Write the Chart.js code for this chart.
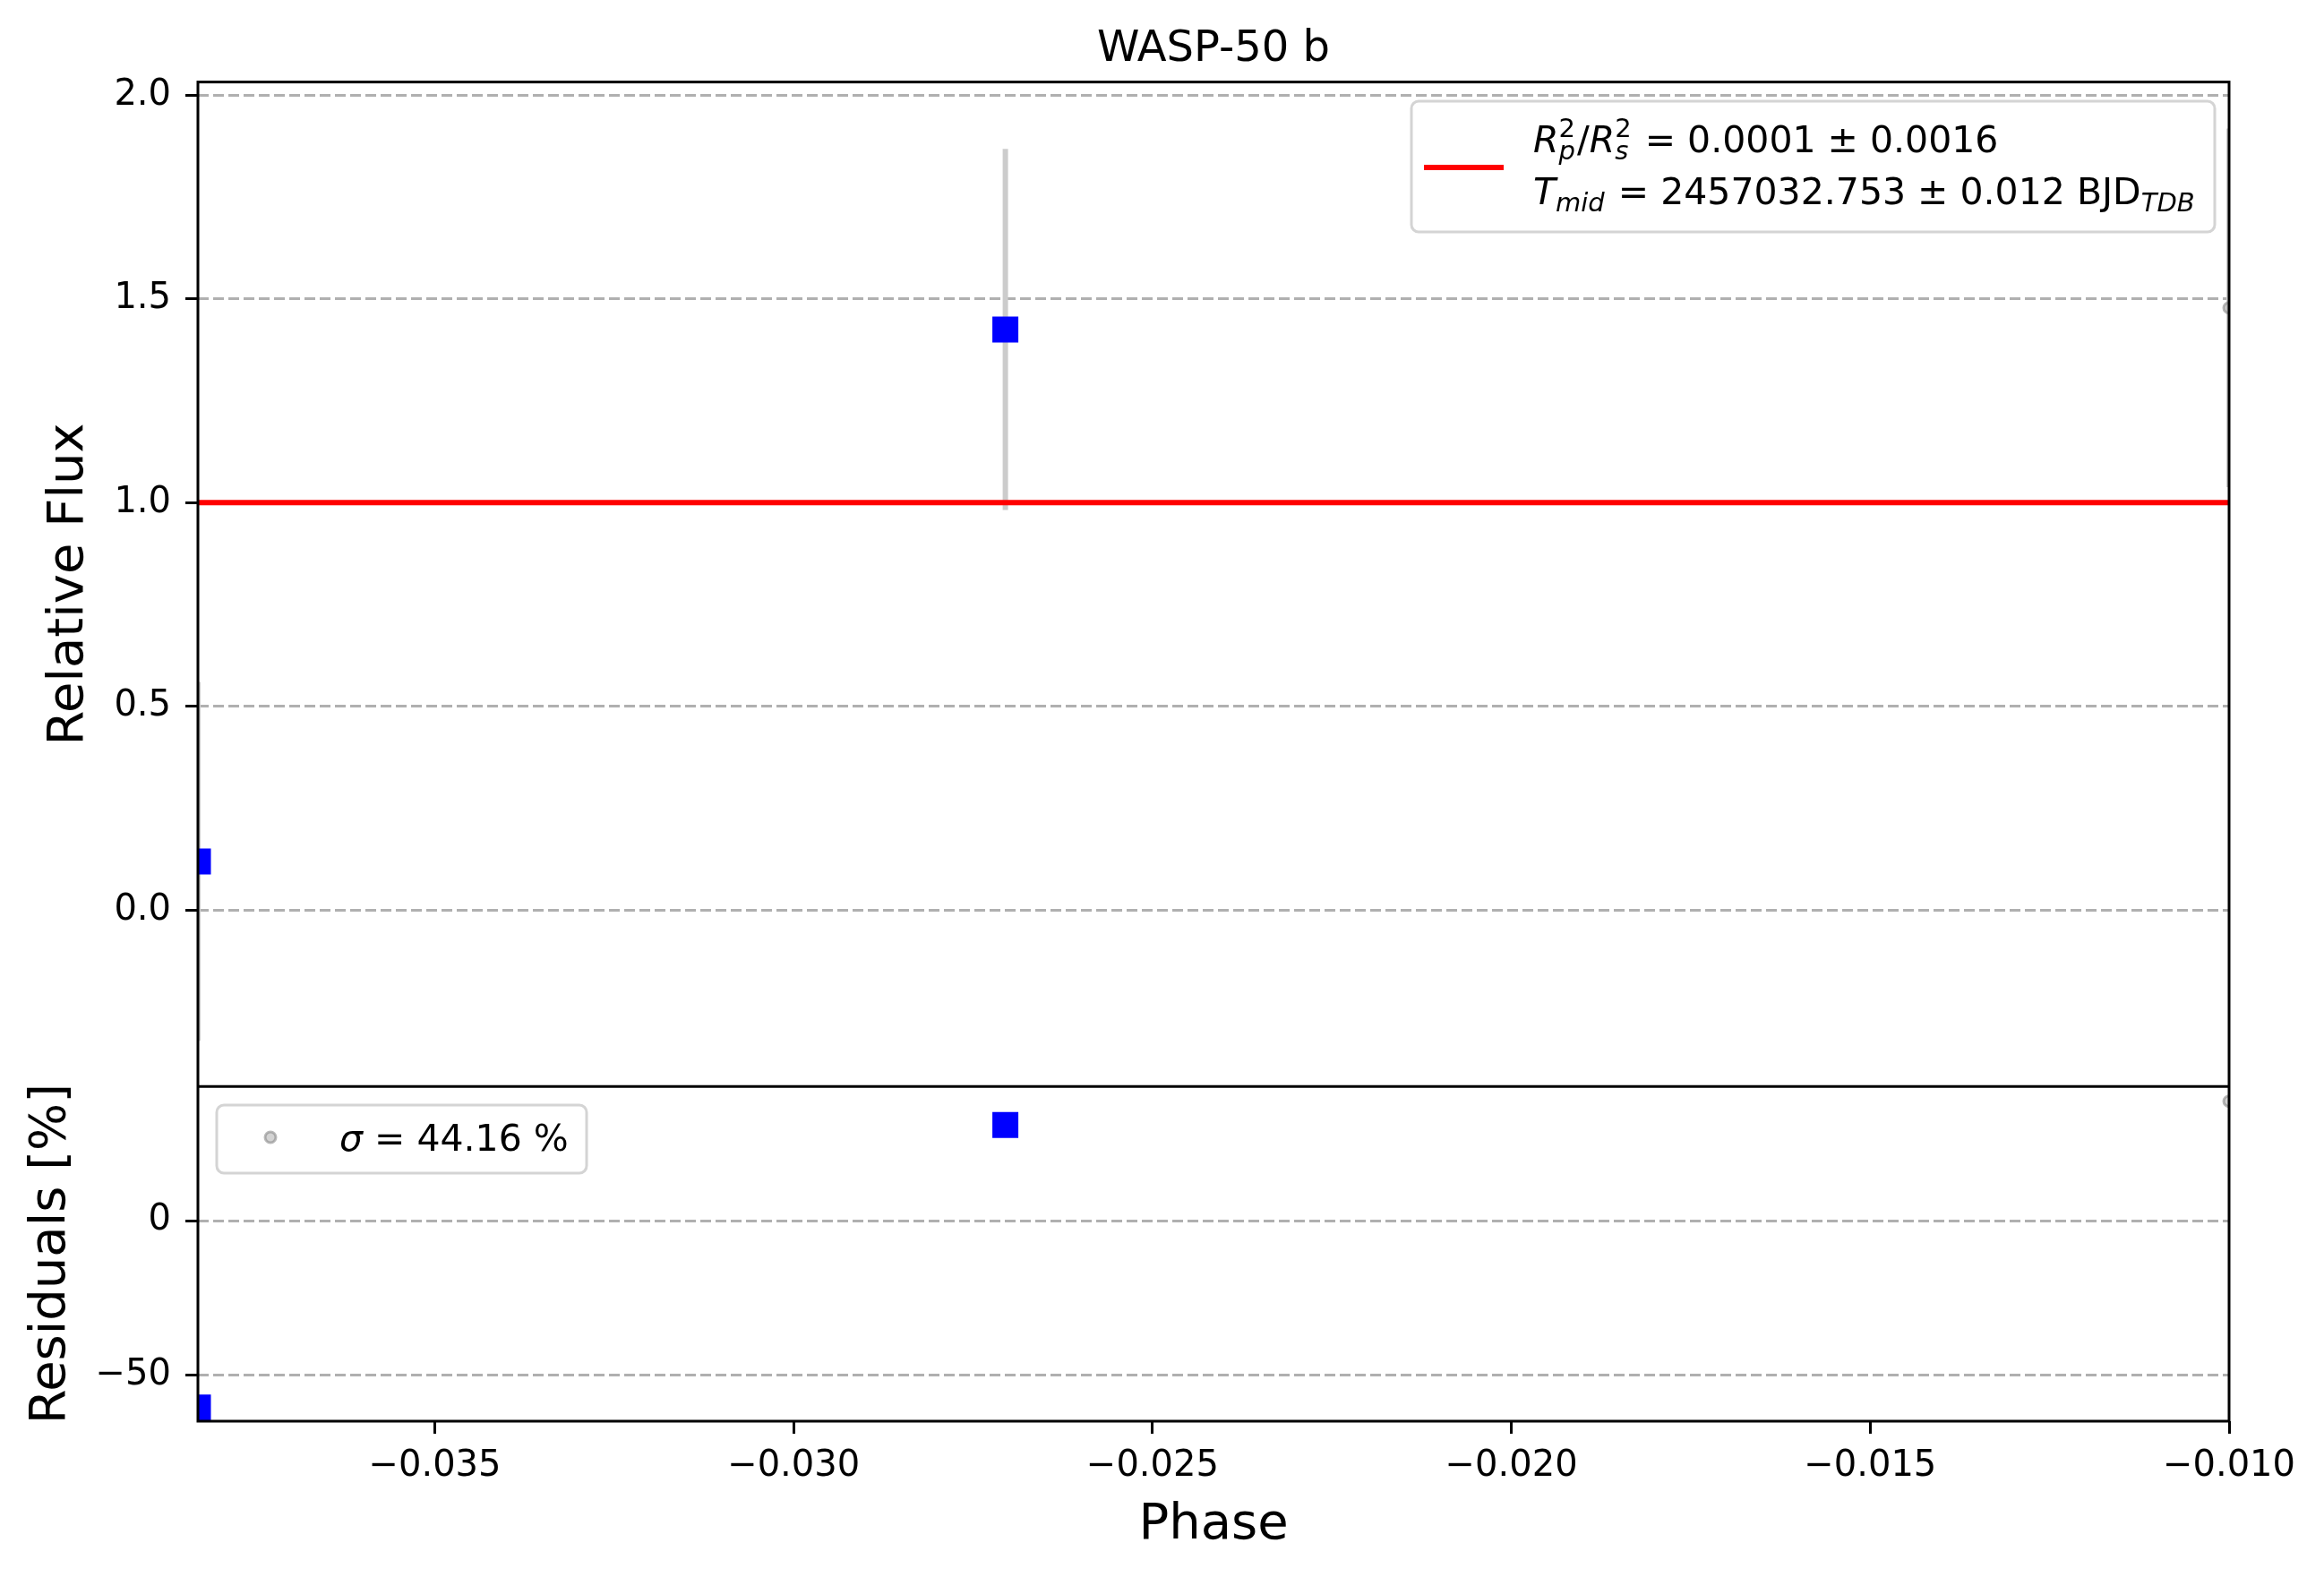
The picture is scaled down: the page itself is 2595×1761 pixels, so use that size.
<!doctype html>
<html>
<head>
<meta charset="utf-8" />
<title>WASP-50 b</title>
<script src="https://cdn.jsdelivr.net/npm/chart.js@4.4.1/dist/chart.umd.min.js"></script>
<style>
body { margin: 0; background: #fff; }
canvas { display: block; }
</style>
</head>
<body>
<canvas id="chart1" width="2595" height="1761"></canvas>
<script>
// binned points (blue squares)
var binPhase = [-0.0383, -0.02705];
var binFlux = [0.12, 1.425];
var binFluxErr = [0.44, 0.443];
var binResid = [-60.6, 31.0];
// raw points (grey dots)
var rawPhase = [-0.0100];
var rawFlux = [1.478];
var rawFluxErr = [0.44];
var rawResid = [38.7];
// transit model
var modelPhase = [-0.0383, -0.0100];
var modelFlux = [1.0, 1.0];

var xTicks = [-0.035, -0.030, -0.025, -0.020, -0.015, -0.010];

var FONT = '"DejaVu Sans"';
var minus = function(s) { return String(s).replace('-', '\u2212'); };

function pts(xs, ys) {
  return xs.map(function(x, i) { return {x: x, y: ys[i]}; });
}

var datasets = [];
// blue squares on top
datasets.push({ data: pts(binPhase, binFlux), yAxisID: 'y', pointStyle: 'rect', pointRadius: 20.5,
  backgroundColor: '#0000ff', borderWidth: 0, showLine: false, clip: 0 });
datasets.push({ data: pts(binPhase, binResid), yAxisID: 'yr', pointStyle: 'rect', pointRadius: 20.5,
  backgroundColor: '#0000ff', borderWidth: 0, showLine: false, clip: 0 });
// model line
datasets.push({ data: pts(modelPhase, modelFlux), yAxisID: 'y', showLine: true, pointRadius: 0,
  borderColor: '#ff0000', borderWidth: 6, clip: 0 });
// raw points
datasets.push({ data: pts(rawPhase, rawFlux), yAxisID: 'y', pointRadius: 6, showLine: false,
  backgroundColor: 'rgba(128,128,128,0.35)', borderColor: 'rgba(128,128,128,0.55)', borderWidth: 3, clip: 0 });
datasets.push({ data: pts(rawPhase, rawResid), yAxisID: 'yr', pointRadius: 6, showLine: false,
  backgroundColor: 'rgba(128,128,128,0.35)', borderColor: 'rgba(128,128,128,0.55)', borderWidth: 3, clip: 0 });
// error bars
function errBars(xs, ys, es) {
  xs.forEach(function(x, i) {
    datasets.push({ data: [{x: x, y: ys[i] - es[i]}, {x: x, y: ys[i] + es[i]}], yAxisID: 'y',
      showLine: true, pointRadius: 0, borderColor: '#cccccc', borderWidth: 6, clip: 0 });
  });
}
errBars(binPhase, binFlux, binFluxErr);
errBars(rawPhase, rawFlux, rawFluxErr);

function seg(ctx, x, y, text, size, italic) {
  ctx.font = (italic ? 'italic ' : '') + size + 'px ' + FONT;
  ctx.fillText(text, x, y);
  return ctx.measureText(text).width;
}
function subsup(ctx, x, y, sup, sub) {
  var a = sup ? seg(ctx, x, y - 17, sup, 29, false) : 0;
  var b = sub ? seg(ctx, x, y + 8, sub, 29, true) : 0;
  return Math.max(a, b) + 2;
}
function box(ctx, x, y, w, h, r) {
  ctx.beginPath();
  ctx.moveTo(x + r, y);
  ctx.arcTo(x + w, y, x + w, y + h, r);
  ctx.arcTo(x + w, y + h, x, y + h, r);
  ctx.arcTo(x, y + h, x, y, r);
  ctx.arcTo(x, y, x + w, y, r);
  ctx.closePath();
  ctx.fillStyle = 'rgba(255,255,255,0.8)';
  ctx.fill();
  ctx.strokeStyle = '#d4d4d4';
  ctx.lineWidth = 3;
  ctx.stroke();
}

var framePlugin = {
  id: 'frame',
  afterLayout: function(chart) {
    // centre the title over the plotting area, like matplotlib
    if (chart.titleBlock) {
      chart.titleBlock.left = chart.chartArea.left;
      chart.titleBlock.right = chart.chartArea.right;
    }
  },
  afterDatasetsDraw: function(chart) {
    var ctx = chart.ctx, a = chart.chartArea;
    ctx.save();
    ctx.strokeStyle = '#000';
    ctx.lineWidth = 3;
    ctx.strokeRect(a.left, a.top, a.right - a.left, a.bottom - a.top);
    var sep = chart.scales.y.bottom;
    ctx.beginPath();
    ctx.moveTo(a.left, sep);
    ctx.lineTo(a.right, sep);
    ctx.stroke();

    // legend of the top panel
    box(ctx, 1576, 113, 897, 146, 8);
    ctx.strokeStyle = '#ff0000';
    ctx.lineWidth = 6;
    ctx.beginPath();
    ctx.moveTo(1590, 187);
    ctx.lineTo(1679, 187);
    ctx.stroke();
    ctx.fillStyle = '#000';
    ctx.textBaseline = 'alphabetic';
    ctx.textAlign = 'left';
    var x = 1712, y = 170;
    x += seg(ctx, x, y, 'R', 41, true);
    x += subsup(ctx, x, y, '2', 'p');
    x += seg(ctx, x, y, '/', 41, false);
    x += seg(ctx, x, y, 'R', 41, true);
    x += subsup(ctx, x, y, '2', 's');
    seg(ctx, x, y, ' = 0.0001 \u00b1 0.0016', 41, false);
    x = 1712; y = 228;
    x += seg(ctx, x, y, 'T', 41, true);
    x += subsup(ctx, x, y, null, 'mid');
    x += seg(ctx, x, y, ' = 2457032.753 \u00b1 0.012 BJD', 41, false);
    subsup(ctx, x, y, null, 'TDB');

    // legend of the residual panel
    box(ctx, 242, 1234, 413, 76, 8);
    ctx.beginPath();
    ctx.arc(302, 1270, 6, 0, Math.PI * 2);
    ctx.fillStyle = 'rgba(128,128,128,0.35)';
    ctx.fill();
    ctx.strokeStyle = 'rgba(128,128,128,0.55)';
    ctx.lineWidth = 3;
    ctx.stroke();
    ctx.fillStyle = '#000';
    x = 379; y = 1285;
    x += seg(ctx, x, y, '\u03c3', 41, true);
    seg(ctx, x, y, ' = 44.16 %', 41, false);
    ctx.restore();
  }
};

var tickFont = { family: FONT, size: 40 };
var labelFont = { family: FONT, size: 56 };

var chart1 = new Chart(document.getElementById('chart1'), {
  type: 'scatter',
  data: { datasets: datasets },
  plugins: [framePlugin],
  options: {
    responsive: false,
    animation: false,
    devicePixelRatio: 1,
    layout: { padding: { left: 0, right: 106, top: 0, bottom: 0 } },
    plugins: {
      legend: { display: false },
      tooltip: { enabled: false },
      title: { display: true, text: 'WASP-50 b', color: '#000',
        font: { family: FONT, size: 48, weight: 'normal' }, padding: { top: 27, bottom: 7 } }
    },
    scales: {
      x: {
        type: 'linear', position: 'bottom', min: -0.0383, max: -0.0100,
        afterFit: function(s) { s.height = 174; },
        afterBuildTicks: function(s) { s.ticks = xTicks.map(function(v) { return {value: v}; }); },
        ticks: { font: tickFont, color: '#000', padding: 13, maxRotation: 0,
          callback: function(v) { return minus(v.toFixed(3)); } },
        grid: { drawOnChartArea: false, drawTicks: true, tickLength: 14, tickWidth: 3, tickColor: '#000' },
        border: { display: false },
        title: { display: true, text: 'Phase', color: '#000', font: labelFont, padding: { top: 0, bottom: 24 } }
      },
      yr: {
        type: 'linear', position: 'left', stack: 'panels', stackWeight: 1, min: -65, max: 43.5,
        afterFit: function(s) { s.width = 221; },
        ticks: { font: tickFont, color: '#000', padding: 16, stepSize: 50, includeBounds: false,
          callback: function(v) { return minus(v); } },
        grid: { color: '#b0b0b0', lineWidth: 3, drawTicks: true, tickLength: 14, tickWidth: 3, tickColor: '#000', tickBorderDash: [] },
        border: { display: false, dash: [12, 5] },
        title: { display: true, text: 'Residuals [%]', color: '#000', font: labelFont, padding: { top: 24, bottom: 0 } }
      },
      y: {
        type: 'linear', position: 'left', stack: 'panels', stackWeight: 3, min: -0.432, max: 2.032,
        afterFit: function(s) { s.width = 221; },
        ticks: { font: tickFont, color: '#000', padding: 16, stepSize: 0.5, includeBounds: false,
          callback: function(v) { return minus(v.toFixed(1)); } },
        grid: { color: '#b0b0b0', lineWidth: 3, drawTicks: true, tickLength: 14, tickWidth: 3, tickColor: '#000', tickBorderDash: [] },
        border: { display: false, dash: [12, 5] },
        title: { display: true, text: 'Relative Flux', color: '#000', font: labelFont, padding: { top: 44, bottom: 0 } }
      }
    }
  }
});
</script>
</body>
</html>
